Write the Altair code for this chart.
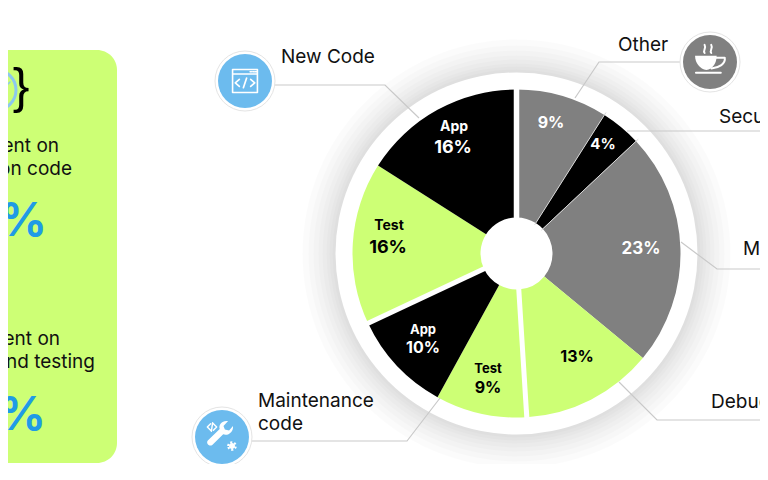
import numpy as np
import pandas as pd
import altair as alt

# --- chart values ---
slice_names = ["Other", "Security", "Meetings", "Debugging", "Test maint", "App maint", "Test new", "App new"]
slice_values = [9, 4, 23, 13, 9, 10, 16, 16]
slice_colors = ["#808080", "#000000", "#808080", "#CDFF75", "#CDFF75", "#000000", "#CDFF75", "#000000"]

CX, CY = 516.5, 253.5
R_OUT, R_IN, R_RING = 164, 36, 181
FONT = "Inter"
LIME = "#CDFF75"
BLUE = "#6CBBEE"
PCT = "#1F9BE6"
LINE = "#C9C9C9"
W, H = 752, 456

xs = alt.Scale(domain=[8, 8 + W], range=[0, W], clamp=False)
ys = alt.Scale(domain=[8 + H, 8], clamp=False)
X = lambda f: alt.X(f, type="quantitative", scale=xs, axis=None)
Y = lambda f: alt.Y(f, type="quantitative", scale=ys, axis=None)
cx_v, cy_v = alt.value(CX - 8), alt.value(CY - 8)

# --- panel ---
panel = alt.Chart(pd.DataFrame({"x": [-40], "x2": [117], "y": [50], "y2": [463]})).mark_rect(
    color=LIME, cornerRadius=20
).encode(x=X("x"), x2="x2", y=Y("y"), y2="y2")

# --- shadow and ring ---
shadow_radii = [214, 208, 203, 198, 194, 190, 187, 184]
shadow = alt.Chart(pd.DataFrame({"x": [CX] * 8, "y": [CY] * 8, "d": [(2 * r) ** 2 for r in shadow_radii]})).mark_point(
    shape="circle", filled=True, fill="#000000", opacity=0.014, strokeWidth=0
).encode(x=X("x"), y=Y("y"), size=alt.Size("d:Q", scale=None))
ring = alt.Chart(pd.DataFrame({"x": [CX], "y": [CY], "d": [(2 * R_RING) ** 2]})).mark_point(
    shape="circle", filled=True, fill="#FFFFFF", opacity=1, strokeWidth=0
).encode(x=X("x"), y=Y("y"), size=alt.Size("d:Q", scale=None))

# --- pie ---
pie_df = pd.DataFrame({"name": slice_names, "value": slice_values, "col": slice_colors,
                       "i": range(len(slice_names))})
pie = alt.Chart(pie_df).mark_arc(outerRadius=R_OUT, innerRadius=R_IN).encode(
    theta=alt.Theta("value:Q", stack=True, scale=alt.Scale(domain=[0, 100], range=[0, 6.28319])),
    order=alt.Order("i:Q"),
    color=alt.Color("col:N", scale=None),
    x=cx_v, y=cy_v,
)

# --- separators between slices, from the cumulative values ---
cum = np.cumsum(slice_values)
def sep(c, w, colr):
    a = 2 * np.pi * c / 100
    d = pd.DataFrame({"x": [CX + (R_IN - 2) * np.sin(a)], "y": [CY - (R_IN - 2) * np.cos(a)],
                      "x2": [CX + (R_OUT + 3) * np.sin(a)], "y2": [CY - (R_OUT + 3) * np.cos(a)]})
    return alt.Chart(d).mark_rule(color=colr, strokeWidth=w).encode(x=X("x"), y=Y("y"), x2="x2", y2="y2")
seps = [sep(0, 5.5, "#FFFFFF"), sep(cum[3], 5, "#FFFFFF"), sep(cum[5], 5, "#FFFFFF"),
        sep(cum[0], 1, "#D8D8D8"), sep(cum[1], 1, "#D8D8D8")]

# --- leader lines ---
leaders = [
    ("a", [272, 385, 419], [85, 85, 118]),
    ("b", [682, 599, 575], [62, 62, 98]),
    ("c", [627, 768], [131, 131]),
    ("d", [681, 717, 768], [242, 269, 269]),
    ("e", [619, 657, 768], [382, 420, 420]),
    ("f", [440, 407, 250], [398, 441, 441]),
]
rows = []
for k, xx, yy in leaders:
    for j, (a, b) in enumerate(zip(xx, yy)):
        rows.append({"k": k, "j": j, "x": a, "y": b})
lines = alt.Chart(pd.DataFrame(rows)).mark_line(color=LINE, strokeWidth=1.2).encode(
    x=X("x"), y=Y("y"), detail="k:N", order="j:Q")

# --- icons ---
icon_x = [245, 710, 222]
icon_y = [81, 62, 437]
icon_c = [BLUE, "#808080", BLUE]
icons_df = pd.DataFrame({"x": icon_x, "y": icon_y, "c": icon_c})
halo = alt.Chart(icons_df).mark_point(filled=True, size=3600, opacity=1, fill="#FFFFFF", stroke="#E4E4E4",
                                      strokeWidth=1, shape="circle").encode(x=X("x"), y=Y("y"))
disc = alt.Chart(icons_df).mark_point(filled=True, size=2916, opacity=1, shape="circle", strokeWidth=0).encode(
    x=X("x"), y=Y("y"), fill=alt.Fill("c:N", scale=None))

def glyph(x, y, path, px, fill=False, sw=1.5, colr="#FFFFFF", dash=None):
    d = pd.DataFrame({"x": [x], "y": [y]})
    if fill:
        m = alt.Chart(d).mark_point(shape=path, size=px ** 2, filled=True, fill=colr, opacity=1, strokeWidth=0)
    elif dash:
        m = alt.Chart(d).mark_point(shape=path, size=px ** 2, filled=False, stroke=colr, strokeWidth=sw,
                                    opacity=1, strokeDash=dash)
    else:
        m = alt.Chart(d).mark_point(shape=path, size=px ** 2, filled=False, stroke=colr, strokeWidth=sw,
                                    opacity=1, strokeCap="round", strokeJoin="round")
    return m.encode(x=X("x"), y=Y("y"))

window = "M-.92,-.85H.92V.85H-.92ZM-.92,-.52H.92M.38,-.69H.48M.58,-.69H.68M.76,-.69H.84"
code = "M-.42,-.12L-.72,.14L-.42,.4M.42,-.12L.72,.14L.42,.4M.12,-.22L-.12,.5"
cup_body = "M-.83,-.35H.37C.37,.05 .15,.4 -.2,.44C-.55,.4 -.83,.05 -.83,-.35Z"
cup_line = ("M.35,-.24H.82C.88,.1 .5,.32 .08,.36M-.78,.6H.6"
            "M-.3,-.5C-.42,-.65 -.18,-.75 -.3,-.95M.07,-.5C-.05,-.65 .19,-.75 .07,-.95")
wrench = ("M-.78,.45L.05,-.35C-.05,-.7 .25,-1 .65,-.92L.32,-.58L.42,-.32L.72,-.25L1,-.58"
          "C1.05,-.15 .65,.15 .3,.02L-.48,.78C-.68,.95 -.98,.65 -.78,.45Z")
wr_code = "M-.25,-.6L-.85,0L-.25,.6M.25,-.6L.85,0L.25,.6M.12,-.8L-.12,.8"
gear = "M-.5,0A.5,.5 0 1,1 .5,0A.5,.5 0 1,1 -.5,0Z"
glyphs = [
    glyph(245, 81, window, 27, sw=1.6),
    glyph(245, 81, code, 27, sw=1.7),
    glyph(710, 62, cup_body, 36, fill=True),
    glyph(710, 62, cup_line, 36, sw=2),
    glyph(219, 434, wrench, 28, fill=True),
    glyph(212, 427, wr_code, 11, sw=1.4),
    glyph(232, 446, gear, 12, fill=True),
    glyph(232, 446, gear, 15, sw=2.2, dash=[2, 2]),
]

# --- clock and brace at the top of the panel ---
clock = alt.Chart(pd.DataFrame({"x": [-4], "y": [90]})).mark_point(
    shape="circle", size=1600, filled=False, stroke="#8CC8EE", strokeWidth=3, opacity=1
).encode(x=X("x"), y=Y("y"))
hand = glyph(4, 88, "M-1,1L1,-1", 12, sw=1.5, colr="#8CC8EE")

# --- text ---
def texts(labels, tx, ty, sizes, colors, weight=400, align="left", font=FONT):
    d = pd.DataFrame({"t": labels, "x": tx, "y": ty, "s": sizes, "c": colors})
    return alt.Chart(d).mark_text(font=font, fontWeight=weight, align=align, baseline="middle").encode(
        x=X("x"), y=Y("y"), text="t:N", size=alt.Size("s:Q", scale=None), color=alt.Color("c:N", scale=None))

call_labels = ["New Code", "Other", "Security", "Meetings", "Debugging", "Maintenance", "code"]
call_x = [281, 618, 719, 743, 711, 258, 258]
call_y = [57, 45, 117, 249, 402, 401, 424]
call_t = texts(call_labels, call_x, call_y, [19] * 7, ["#111111"] * 7)

head_labels = ["App", "Test", "App", "Test"]
head_t = texts(head_labels, [454, 389, 423, 488], [127, 226, 330, 369], [14, 14, 13, 13],
               ["#FFFFFF", "#000000", "#FFFFFF", "#000000"], weight=700, align="center")
pct_labels = ["16%", "16%", "10%", "9%", "9%", "4%", "23%", "13%"]
pct_t = texts(pct_labels, [453, 388, 423, 488, 551, 603, 641, 577],
              [148, 248, 348, 388, 123, 144, 249, 357], [18, 18, 16, 16, 16, 15, 17, 16],
              ["#FFFFFF", "#000000", "#FFFFFF", "#000000", "#FFFFFF", "#FFFFFF", "#FFFFFF", "#000000"],
              weight=700, align="center")

panel_lines = ["Time spent on", "application code", "Time spent on", "debugging and testing"]
panel_t = texts(panel_lines, [59, 72, 60, 95], [146, 169, 339, 362], [19] * 4, ["#111111"] * 4, align="right")
panel_pct = texts(["26%", "38%"], [47, 46], [222, 416], [47, 47], [PCT, PCT], weight=700, align="right")
brace = texts(["}"], [21], [88], [50], ["#000000"], align="center", font="Liberation Sans")

chart = alt.layer(
    panel, clock, hand, brace, panel_t, panel_pct,
    shadow, ring, pie, *seps, lines, halo, disc, *glyphs,
    call_t, head_t, pct_t,
).properties(
    width=W, height=H, padding=0, autosize=alt.AutoSizeParams(type="none"), background="#FFFFFF"
).configure_view(stroke=None)

chart.save("out.html", embed_options={"renderer": "svg", "actions": False})
